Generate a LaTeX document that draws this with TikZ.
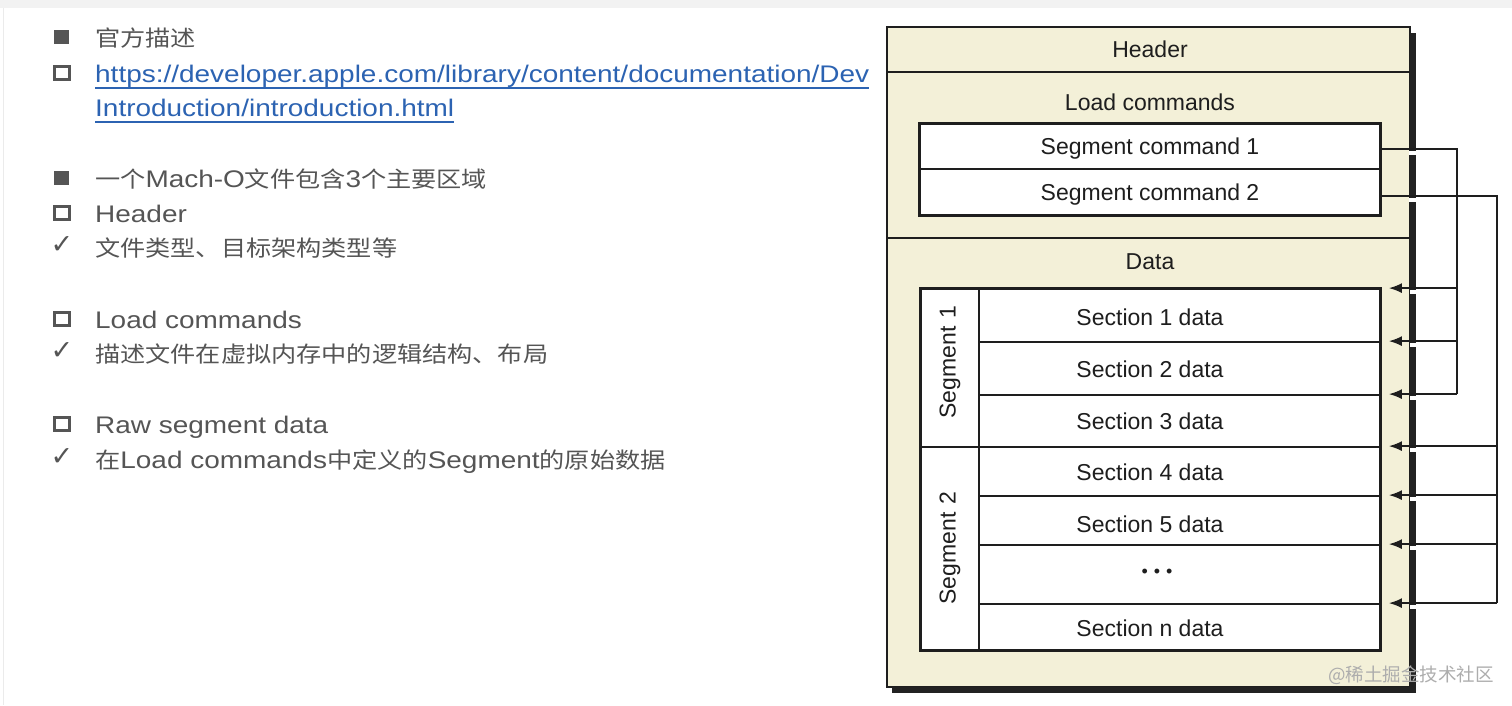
\documentclass[tikz,border=0pt]{standalone}
\usepackage{fontspec}
\usetikzlibrary{arrows.meta}
\setmainfont{Liberation Sans}
\newfontfamily\lfont[FakeStretch=1.165]{Liberation Sans}
\newfontfamily\cjk[FakeStretch=1.14,Scale=0.92]{Noto Sans CJK SC}
\newfontfamily\wmfont{Noto Sans CJK SC}
\newfontfamily\dvsans{DejaVu Sans}
\newcommand\zhs[1]{{\cjk #1}}
\definecolor{txt}{HTML}{555555}
\definecolor{linkc}{HTML}{2C63B2}
\definecolor{cream}{HTML}{F3F0D8}
\definecolor{ink}{HTML}{1E1E1E}
\definecolor{shade}{HTML}{222222}
\tikzset{
  ltxt/.style={anchor=base west, inner sep=0pt, text=txt, font=\lfont\fontsize{24}{28}\selectfont},
  ltxtlink/.style={ltxt, text=linkc},
  fbullet/.style={fill=txt, draw=none, minimum width=15pt, minimum height=14pt, inner sep=0pt},
  hbullet/.style={draw=txt, line width=3pt, fill=white, minimum width=14.5pt, minimum height=13.5pt, inner sep=0pt},
  cbullet/.style={text=txt, inner sep=0pt, font=\dvsans\fontsize{27}{28}\selectfont},
  dtxt/.style={inner sep=0pt, text=ink, font=\fontsize{23}{26}\selectfont},
  rowbox/.style={draw=ink, line width=1.8pt, fill=white, inner sep=0pt, minimum width=401pt},
  cmdbox/.style={draw=ink, line width=1.8pt, fill=white, inner sep=0pt, minimum width=460pt, minimum height=45.5pt, text=ink, text height=16.5pt, text depth=0pt, font=\fontsize{23}{26}\selectfont},
  segbox/.style={draw=ink, line width=1.8pt, fill=white, inner sep=0pt, minimum width=58pt},
  conn/.style={draw=ink, line width=1.6pt},
  arr/.style={-{Latex[length=13pt,width=10pt]}},
  shadowline/.style={draw=shade, line width=6pt},
}
\begin{document}
\begin{tikzpicture}[x=1pt,y=-1pt]
\useasboundingbox (0,0) rectangle (1512,705);
\fill[white] (0,0) rectangle (1512,705);
\fill[black!5] (0,0) rectangle (1512,8);
\draw[black!8, line width=1pt] (3,8) -- (3,705);

% ---------- left column ----------
\node[fbullet] (bl1) at (61.5,37) {};
\node[ltxt] (l1) at (95,46) {\zhs{官方描述}};
\node[hbullet] (bl2) at (62,73) {};
\node[ltxtlink] (l2) at (95,82) {https://developer.apple.com/library/content/documentation/Dev};
\node[ltxtlink] (l3) at (95,116) {Introduction/introduction.html};
\draw[linkc, line width=1.5pt] ([yshift=-6pt]l2.base west) -- ([yshift=-6pt]l2.base east);
\draw[linkc, line width=1.5pt] ([yshift=-6pt]l3.base west) -- ([yshift=-6pt]l3.base east);

\node[fbullet] (bl4) at (61.5,178) {};
\node[ltxt] (l4) at (95,187) {\zhs{一个}Mach-O\zhs{文件包含}3\zhs{个主要区域}};
\node[hbullet] (bl5) at (62,213) {};
\node[ltxt] (l5) at (95,222) {Header};
\node[cbullet] (bl6) at (62,245) {✓};
\node[ltxt] (l6) at (95,256) {\zhs{文件类型、目标架构类型等}};

\node[hbullet] (bl7) at (62,319) {};
\node[ltxt] (l7) at (95,328) {Load commands};
\node[cbullet] (bl8) at (62,351) {✓};
\node[ltxt] (l8) at (95,362) {\zhs{描述文件在虚拟内存中的逻辑结构、布局}};

\node[hbullet] (bl9) at (62,424) {};
\node[ltxt] (l9) at (95,433) {Raw segment data};
\node[cbullet] (bl10) at (62,457) {✓};
\node[ltxt] (l10) at (95,468) {\zhs{在}Load commands\zhs{中定义的}Segment\zhs{的原始数据}};

% ---------- diagram ----------
\draw[ink, line width=2pt, fill=cream] (887,27) rectangle (1410,687);
\draw[shadowline] (1413,33) -- (1413,690) -- (892,690);
\draw[ink, line width=2pt] (887,72) -- (1410,72);
\draw[ink, line width=2pt] (887,238) -- (1410,238);

\node[dtxt] (hdr) at (1150,49) {Header};
\node[dtxt] (lc) at (1150,102) {Load commands};
\node[dtxt] (dat) at (1150,262) {Data};

\node[cmdbox] (cmd1) at (1150,146.5) {Segment command 1};
\node[cmdbox] (cmd2) at (1150,192) {Segment command 2};
\draw[ink, line width=2.4pt] (cmd1.north west) rectangle (cmd2.south east);

\node[rowbox, minimum height=53pt] (r1) at (1179.5,315.5) {};
\node[rowbox, minimum height=53pt] (r2) at (1179.5,368.5) {};
\node[rowbox, minimum height=52pt] (r3) at (1179.5,421) {};
\node[rowbox, minimum height=49pt] (r4) at (1179.5,471.5) {};
\node[rowbox, minimum height=49pt] (r5) at (1179.5,520.5) {};
\node[rowbox, minimum height=59pt] (r6) at (1179.5,574.5) {};
\node[rowbox, minimum height=46pt] (r7) at (1179.5,627) {};
\node[segbox, minimum height=158pt] (sg1) at (950,368) {};
\node[segbox, minimum height=203pt] (sg2) at (950,548.5) {};
\draw[ink, line width=2.4pt] (sg1.north west) rectangle (r7.south east);

\node[dtxt] (t1) at (1150,317) {Section 1 data};
\node[dtxt] (t2) at (1150,369) {Section 2 data};
\node[dtxt] (t3) at (1150,421) {Section 3 data};
\node[dtxt] (t4) at (1150,472) {Section 4 data};
\node[dtxt] (t5) at (1150,524) {Section 5 data};
\node[dtxt, font=\fontsize{18}{18}\selectfont] (t6) at (1157,573) {•\hspace{6pt}•\hspace{6pt}•};
\node[dtxt] (t7) at (1150,628) {Section n data};
\node[dtxt, rotate=90] (s1) at (950,362) {Segment\hspace{8pt}1};
\node[dtxt, rotate=90] (s2) at (950,548) {Segment\hspace{8pt}2};

% ---------- connectors ----------
\coordinate (bus1) at (1457,149);
\coordinate (bus2) at (1497,196);
\draw[conn] ([yshift=-2.5pt]cmd1.east) -- (bus1) -- (bus1 |- r3.north east);
\draw[conn] ([yshift=-4pt]cmd2.east) -- (bus2) -- (bus2 |- r7.north east);
\foreach \r in {r1,r2,r3}{
  \fill[white] ([xshift=29pt,yshift=-1.5pt]\r.north east) rectangle ([xshift=37pt,yshift=-6pt]\r.north east);
  \draw[conn,arr] (bus1 |- \r.north east) -- ([xshift=8pt]\r.north east);
}
\foreach \r in {r4,r5,r6,r7}{
  \fill[white] ([xshift=29pt,yshift=-1.5pt]\r.north east) rectangle ([xshift=37pt,yshift=-6pt]\r.north east);
  \draw[conn,arr] (bus2 |- \r.north east) -- ([xshift=8pt]\r.north east);
}
\fill[white] (1409,150.5) rectangle (1417,155);
\fill[white] (1409,197.5) rectangle (1417,202);
\draw[conn] ([yshift=-2.5pt]cmd1.east) -- (bus1);
\draw[conn] ([yshift=-4pt]cmd2.east) -- (bus2);

% ---------- watermark ----------
\node[inner sep=0pt, text=black!32, font=\wmfont\fontsize{18.5}{22}\selectfont] (wm) at (1411,675) {@稀土掘金技术社区};
\end{tikzpicture}
\end{document}
